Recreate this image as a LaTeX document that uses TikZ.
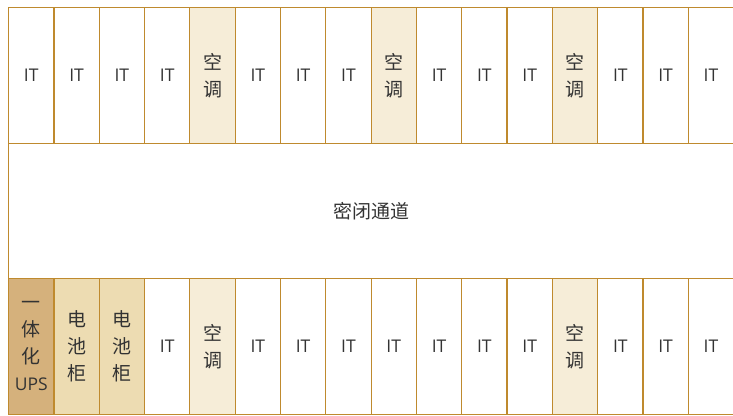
\documentclass[tikz,border=0pt]{standalone}
\usepackage{fontspec}
\setmainfont{Open Sans}
\newfontfamily\cjkfam{Noto Sans CJK SC}
\newcommand\cjk{\cjkfam\fontsize{19}{27}\selectfont}
\begin{document}
\begin{tikzpicture}[x=1pt,y=-1pt,
  cell/.style={draw=edge,line width=1.2pt,minimum width=45.3125pt,minimum height=135.5pt,inner sep=0pt,anchor=north west,text=txt,font=\fontsize{17.5}{27}\selectfont,align=center},
  itcell/.style={cell,fill=white},
  accell/.style={cell,fill=acfill},
  batcell/.style={cell,fill=batfill},
  upscell/.style={cell,fill=upsfill}]
\definecolor{edge}{HTML}{BF8A2E}
\definecolor{acfill}{HTML}{F6EDD8}
\definecolor{batfill}{HTML}{EDDCB2}
\definecolor{upsfill}{HTML}{D5B17C}
\definecolor{txt}{HTML}{333333}
\useasboundingbox (0,0) rectangle (733,415);
\fill[white] (0,0) rectangle (733,415);
% top row
\foreach \i in {0,...,15}{
  \pgfmathsetmacro{\xx}{8+45.3125*\i}
  \ifnum\i=4 \node[accell] (t\i) at (\xx,7) {\cjk 空\\\cjk 调};
  \else\ifnum\i=8 \node[accell] (t\i) at (\xx,7) {\cjk 空\\\cjk 调};
  \else\ifnum\i=12 \node[accell] (t\i) at (\xx,7) {\cjk 空\\\cjk 调};
  \else \node[itcell] (t\i) at (\xx,7) {IT};
  \fi\fi\fi
}
% corridor
\node[draw=edge,line width=1.2pt,fill=white,anchor=north west,minimum width=725pt,minimum height=135.5pt,inner sep=0pt,text=txt,font=\cjk] (corr) at (8,142.5) {密闭通道};
% bottom row
\foreach \i in {0,...,15}{
  \pgfmathsetmacro{\xx}{8+45.3125*\i}
  \ifnum\i=0 \node[upscell] (b\i) at (\xx,278) {\cjk 一\\\cjk 体\\\cjk 化\\UPS};
  \else\ifnum\i=1 \node[batcell] (b\i) at (\xx,278) {\cjk 电\\\cjk 池\\\cjk 柜};
  \else\ifnum\i=2 \node[batcell] (b\i) at (\xx,278) {\cjk 电\\\cjk 池\\\cjk 柜};
  \else\ifnum\i=4 \node[accell] (b\i) at (\xx,278) {\cjk 空\\\cjk 调};
  \else\ifnum\i=12 \node[accell] (b\i) at (\xx,278) {\cjk 空\\\cjk 调};
  \else \node[itcell] (b\i) at (\xx,278) {IT};
  \fi\fi\fi\fi\fi
}
\end{tikzpicture}
\end{document}
